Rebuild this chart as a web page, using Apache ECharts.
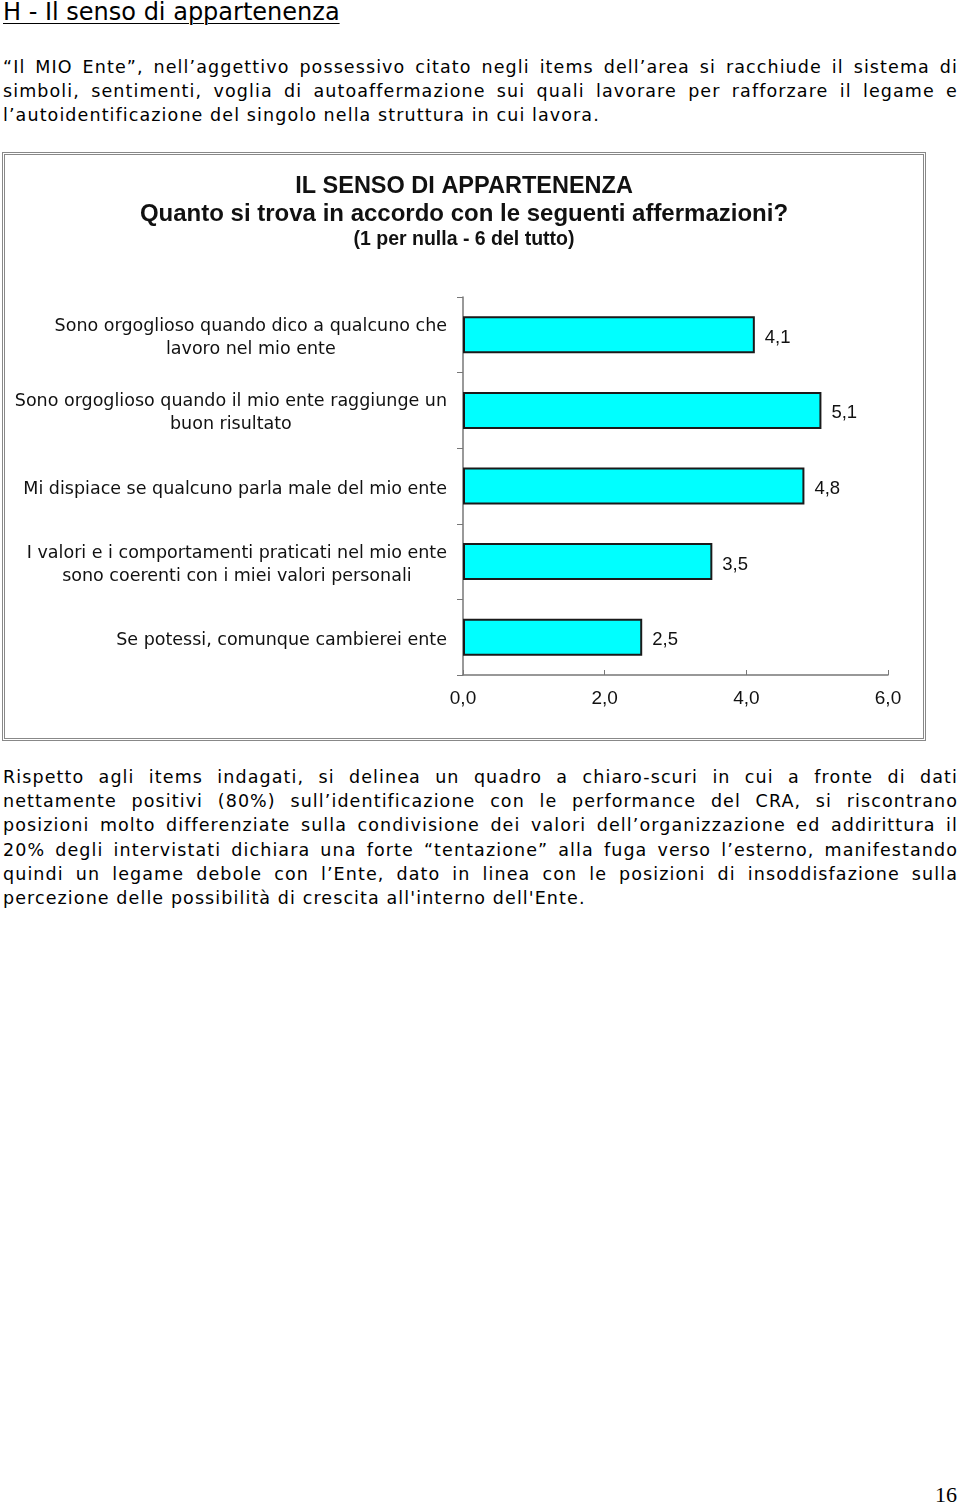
<!DOCTYPE html>
<html>
<head>
<meta charset="utf-8">
<script src="https://cdn.jsdelivr.net/npm/echarts@6/dist/echarts.min.js"></script>
<style>
  html, body { margin: 0; padding: 0; background: #fff; }
  body { width: 960px; height: 1505px; position: relative; overflow: hidden; font-family: "DejaVu Sans", Verdana, sans-serif; color: #000; }
  .h { position: absolute; left: 3px; top: -2px; font-size: 24px; text-decoration: underline; text-decoration-thickness: 1px; text-underline-offset: 3px; white-space: nowrap; }
  .p { position: absolute; left: 3px; width: 955px; font-size: 17.5px; letter-spacing: 1.1px; line-height: 24.2px; }
  .p div { text-align: justify; text-align-last: justify; white-space: nowrap; }
  .p div.last { text-align-last: left; }
  #chart { position: absolute; left: 2px; top: 152px; width: 918px; height: 583px; border: 3px double #888; }
  .pg { position: absolute; right: 3px; top: 1482px; font-family: "Liberation Serif", "DejaVu Serif", serif; font-size: 22px; }
</style>
</head>
<body>
<div class="h">H - Il senso di appartenenza</div>
<div class="p" style="top:55px">
  <div>“Il MIO Ente”, nell’aggettivo possessivo citato negli items dell’area si racchiude il sistema di</div>
  <div>simboli, sentimenti, voglia di autoaffermazione sui quali lavorare per rafforzare il legame e</div>
  <div class="last">l’autoidentificazione del singolo nella struttura in cui lavora.</div>
</div>
<div id="chart"></div>
<div class="p" style="top:765px">
  <div>Rispetto agli items indagati, si delinea un quadro a chiaro-scuri in cui a fronte di dati</div>
  <div>nettamente positivi (80%) sull’identificazione con le performance del CRA, si riscontrano</div>
  <div>posizioni molto differenziate sulla condivisione dei valori dell’organizzazione ed addirittura il</div>
  <div>20% degli intervistati dichiara una forte “tentazione” alla fuga verso l’esterno, manifestando</div>
  <div>quindi un legame debole con l’Ente, dato in linea con le posizioni di insoddisfazione sulla</div>
  <div class="last">percezione delle possibilità di crescita all'interno dell'Ente.</div>
</div>
<div class="pg">16</div>
<script>
const categories = [
  "Sono orgoglioso quando dico a qualcuno che\nlavoro nel mio ente",
  "Sono orgoglioso quando il mio ente raggiunge un\nbuon risultato",
  "Mi dispiace se qualcuno parla male del mio ente",
  "I valori e i comportamenti praticati nel mio ente\nsono coerenti con i miei valori personali",
  "Se potessi, comunque cambierei ente"
];
const values = [4.12, 5.06, 4.82, 3.52, 2.53];
const xTicks = { min: 0, max: 6, interval: 2 };
const titleLines = [
  "IL SENSO DI APPARTENENZA",
  "Quanto si trova in accordo con le seguenti affermazioni?",
  "(1 per nulla - 6 del tutto)"
];

const comma = v => Number(v).toFixed(1).replace('.', ',');
const chart = echarts.init(document.getElementById('chart'), null, { renderer: 'canvas' });
const tFont = '"Liberation Sans Narrow", "Arial Narrow", "Liberation Sans", sans-serif';
chart.setOption({
  animation: false,
  backgroundColor: '#fff',
  title: [
    { text: titleLines[0], left: 'center', top: 15, textStyle: { fontFamily: tFont, fontSize: 23.5, fontWeight: 'bold', color: '#111' } },
    { text: titleLines[1], left: 'center', top: 42, textStyle: { fontFamily: tFont, fontSize: 24, fontWeight: 'bold', color: '#111' } },
    { text: titleLines[2], left: 'center', top: 70, textStyle: { fontFamily: tFont, fontSize: 19.5, fontWeight: 'bold', color: '#111' } }
  ],
  grid: { left: 458, right: 35, top: 142, bottom: 63, containLabel: false },
  xAxis: {
    type: 'value', min: xTicks.min, max: xTicks.max, interval: xTicks.interval,
    splitLine: { show: false },
    axisLine: { show: true, lineStyle: { color: '#777', width: 1.5 } },
    axisTick: { show: true, inside: true, length: 5, lineStyle: { color: '#777' } },
    axisLabel: { formatter: comma, margin: 14, fontFamily: tFont, fontSize: 19, color: '#111' }
  },
  yAxis: {
    type: 'category', data: categories, inverse: true,
    axisLine: { show: true, lineStyle: { color: '#777', width: 1.5 } },
    axisTick: { show: true, length: 6, lineStyle: { color: '#777' } },
    axisLabel: {
      margin: 16, align: 'right', color: '#111', padding: [6, 0, 0, 0],
      formatter: v => v.split('\n').map(l => '{c|' + l + '}').join('\n'),
      rich: { c: { align: 'center', fontFamily: '"DejaVu Sans", Verdana, sans-serif', fontSize: 17.5, lineHeight: 23, color: '#111' } }
    }
  },
  series: [{
    type: 'bar', data: values, barCategoryGap: '51%',
    itemStyle: { color: '#00FFFF', borderColor: '#1a1a1a', borderWidth: 2 },
    label: { show: true, position: 'right', distance: 10, offset: [0, 3], formatter: p => comma(p.value), fontFamily: '"Liberation Sans", Arial, sans-serif', fontSize: 18.5, color: '#111' }
  }]
});
</script>
</body>
</html>
